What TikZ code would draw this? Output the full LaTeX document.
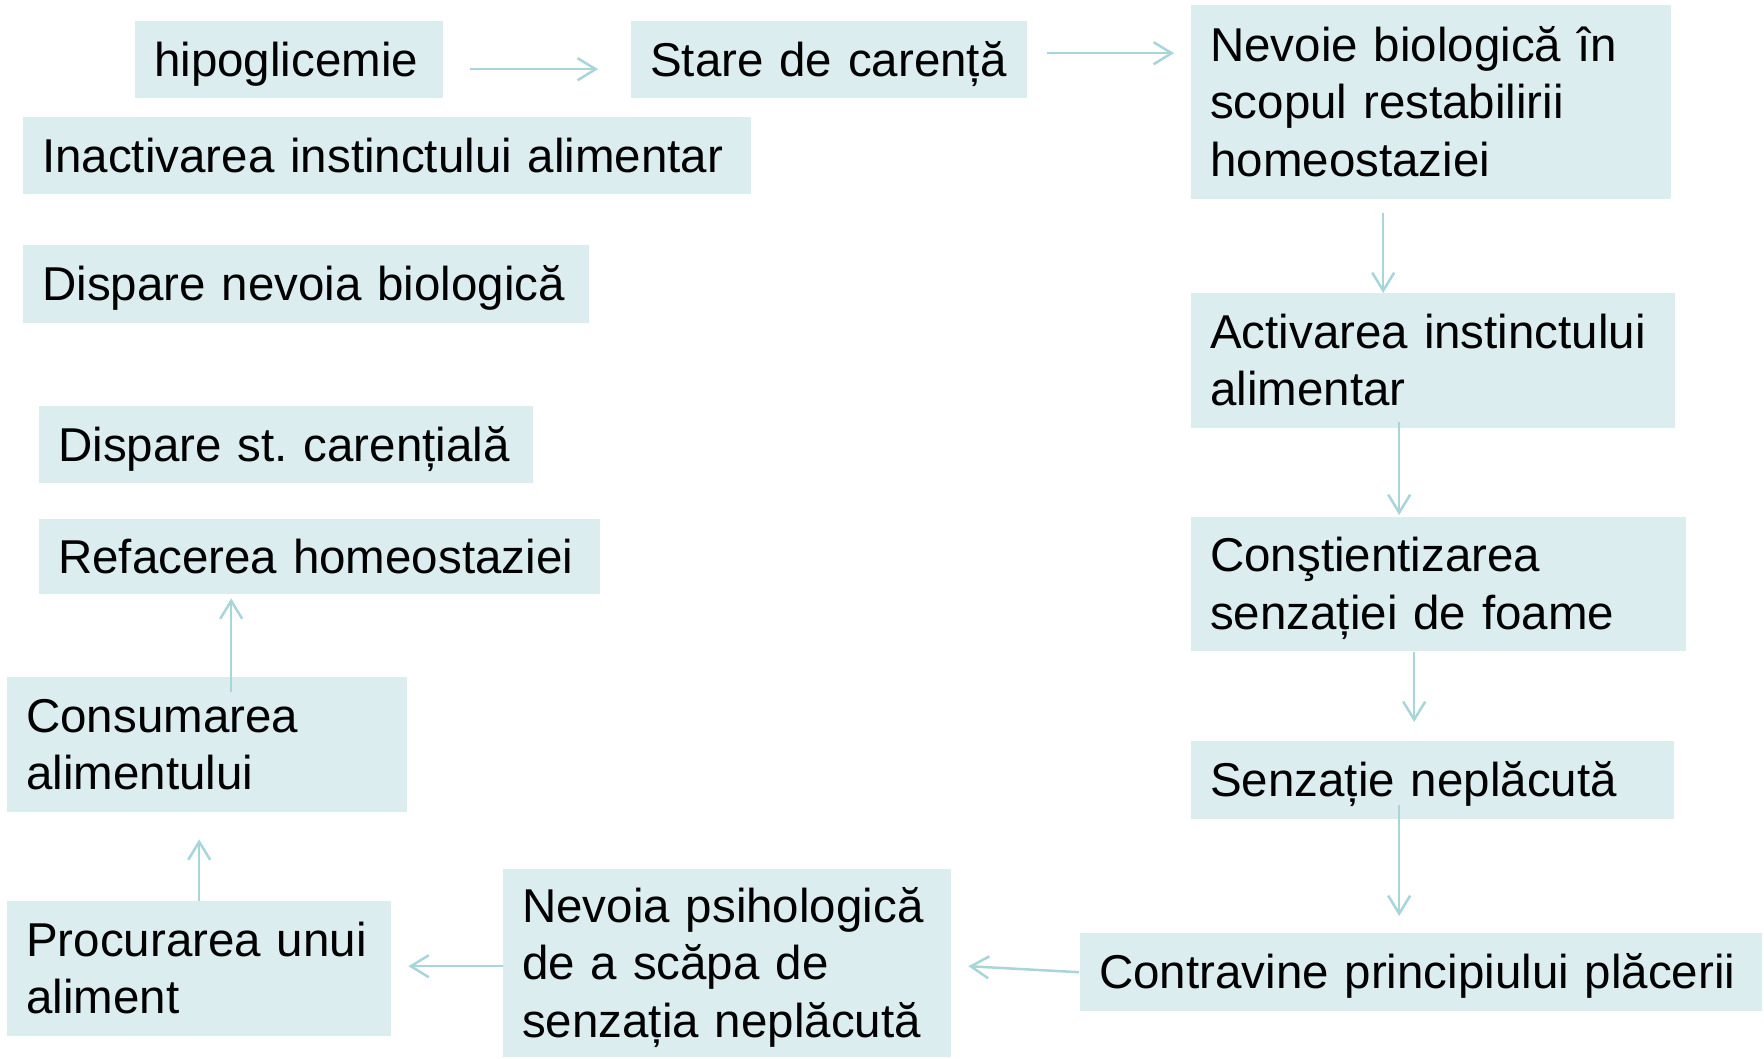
\documentclass[tikz,border=0pt]{standalone}
\usepackage{fontspec}
\setmainfont{Liberation Sans}
\usetikzlibrary{arrows.meta}
\definecolor{boxfill}{RGB}{219,237,239}
\definecolor{arrowc}{RGB}{168,213,218}
\newcommand\bxl[1]{\mbox{\rule[-0.212em]{0pt}{1.117em}#1}}
\frenchspacing
\tikzset{
  bx/.style={anchor=north west, fill=boxfill, draw=none, inner xsep=19pt, inner ysep=0pt,
    align=left, font=\fontsize{47.5pt}{57.6pt}\selectfont\frenchspacing, text=black},
  arr/.style={draw=arrowc, line width=2.5pt, -{Straight Barb[length=18pt,width=22pt]}}
}
\begin{document}
\begin{tikzpicture}[x=1pt,y=-1pt]
\useasboundingbox (0,0) rectangle (1764,1058);
\node[bx, minimum width=308pt, minimum height=77pt, text width=270pt] (hipo) at (135,21) {\bxl{hipoglicemie}};
\node[bx, minimum width=396pt, minimum height=77pt, text width=358pt] (stare) at (631,21) {\bxl{Stare de carență}};
\node[bx, minimum width=480pt, minimum height=194pt, text width=442pt] (nevbio) at (1191,5) {\bxl{Nevoie biologică în}\\\bxl{scopul restabilirii}\\\bxl{homeostaziei}};
\node[bx, minimum width=728pt, minimum height=77pt, text width=690pt] (inact) at (23,117) {\bxl{Inactivarea instinctului alimentar}};
\node[bx, minimum width=566pt, minimum height=78pt, text width=528pt] (dispnev) at (23,245) {\bxl{Dispare nevoia biologică}};
\node[bx, minimum width=484pt, minimum height=135pt, text width=446pt] (activ) at (1191,293) {\bxl{Activarea instinctului}\\\bxl{alimentar}};
\node[bx, minimum width=494pt, minimum height=77pt, text width=456pt] (dispst) at (39,406) {\bxl{Dispare st. carențială}};
\node[bx, minimum width=495pt, minimum height=134pt, text width=457pt] (constient) at (1191,517) {\bxl{Conştientizarea}\\\bxl{senzației de foame}};
\node[bx, minimum width=561pt, minimum height=75pt, text width=523pt] (refac) at (39,519) {\bxl{Refacerea homeostaziei}};
\node[bx, minimum width=483pt, minimum height=78pt, text width=445pt] (senz) at (1191,741) {\bxl{Senzație neplăcută}};
\node[bx, minimum width=400pt, minimum height=135pt, text width=362pt] (consum) at (7,677) {\bxl{Consumarea}\\\bxl{alimentului}};
\node[bx, minimum width=384pt, minimum height=135pt, text width=346pt] (procur) at (7,901) {\bxl{Procurarea unui}\\\bxl{aliment}};
\node[bx, minimum width=448pt, minimum height=188pt, text width=410pt] (nevpsi) at (503,869) {\bxl{Nevoia psihologică}\\\bxl{de a scăpa de}\\\bxl{senzația neplăcută}};
\node[bx, minimum width=682pt, minimum height=78pt, text width=644pt] (contra) at (1080,933) {\bxl{Contravine principiului plăcerii}};

\draw[arr] ([shift={(27,9.5)}]hipo.east) -- ([shift={(-33,9.5)}]stare.west);
\draw[arr] ([shift={(20,-6.5)}]stare.east) -- ([shift={(-17,-49)}]nevbio.west);
\draw[arr] ([shift={(-48,14)}]nevbio.south) -- ([shift={(-50,0)}]activ.north);
\draw[arr] ([shift={(-34,-6)}]activ.south) -- ([shift={(-39.5,-2)}]constient.north);
\draw[arr] ([shift={(-24.5,1)}]constient.south) -- ([shift={(-18.5,-19)}]senz.north);
\draw[arr] ([shift={(-33.5,-14)}]senz.south) -- ([shift={(-22,-17)}]contra.north);
\draw[arr] ([shift={(-1,0)}]contra.west) -- ([shift={(17,3)}]nevpsi.east);
\draw[arr] ([shift={(0,3)}]nevpsi.west) -- ([shift={(17,-2.5)}]procur.east);
\draw[arr] (procur.north) -- ([shift={(-8,27)}]consum.south);
\draw[arr] ([shift={(24,15)}]consum.north) -- ([shift={(-88.5,4)}]refac.south);
\end{tikzpicture}
\end{document}
